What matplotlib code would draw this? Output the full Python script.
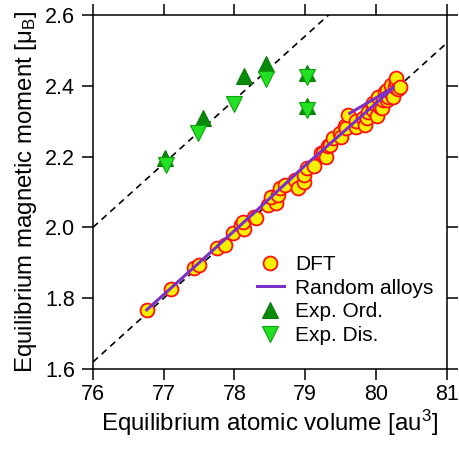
import numpy as np
import matplotlib
matplotlib.use('Agg')
import matplotlib.pyplot as plt

plt.rcParams['font.family'] = ['Liberation Sans', 'DejaVu Sans']
plt.rcParams['mathtext.fontset'] = 'custom'
plt.rcParams['mathtext.rm'] = 'Liberation Sans'
plt.rcParams['mathtext.it'] = 'Liberation Sans:italic'

# DFT results (volume, moment)
dft_vol = [76.76, 77.10, 77.43, 77.50, 77.76, 77.86, 77.98, 78.09, 78.14, 78.12,
           78.28, 78.31, 78.47, 78.59, 78.52, 78.61, 78.64, 78.71, 78.85, 78.90,
           78.99, 78.99, 79.02, 79.13, 79.23, 79.25, 79.30, 79.32, 79.35, 79.39,
           79.49, 79.51, 79.56, 79.58, 79.61, 79.72, 79.72, 79.82, 79.84, 79.87,
           79.89, 79.96, 79.96, 80.01, 80.03, 80.06, 80.08, 80.10, 80.13, 80.15,
           80.15, 80.17, 80.22, 80.22, 80.24, 80.27, 80.29, 80.29, 80.31, 80.34]
dft_mom = [1.767, 1.825, 1.884, 1.894, 1.941, 1.950, 1.985, 2.007, 1.995, 2.016,
           2.030, 2.026, 2.063, 2.068, 2.087, 2.092, 2.110, 2.120, 2.134, 2.110,
           2.129, 2.148, 2.167, 2.172, 2.209, 2.209, 2.200, 2.229, 2.233, 2.252,
           2.266, 2.256, 2.285, 2.280, 2.318, 2.284, 2.299, 2.308, 2.289, 2.308,
           2.327, 2.331, 2.351, 2.313, 2.369, 2.341, 2.336, 2.360, 2.383, 2.388,
           2.360, 2.369, 2.379, 2.402, 2.369, 2.397, 2.411, 2.421, 2.392, 2.397]

# random alloys curve
ra_vol = [76.76, 77.50, 78.30, 79.00, 79.60, 80.00, 80.25, 79.63]
ra_mom = [1.767, 1.900, 2.045, 2.175, 2.280, 2.350, 2.395, 2.322]

# experiments
ord_vol = [77.02, 77.56, 78.13, 78.45, 79.03, 79.03]
ord_mom = [2.195, 2.308, 2.427, 2.461, 2.435, 2.342]
dis_vol = [77.03, 77.49, 77.99, 78.45, 79.03, 79.03]
dis_mom = [2.176, 2.266, 2.348, 2.418, 2.425, 2.332]

# guide lines: intercept at V=76 and slope
guide_x = [76, 81]
guide_b = [2.0, 1.62]
guide_slope = 0.18

fig = plt.figure(figsize=(4.6, 4.49), dpi=100)
ax = fig.add_axes([0.202, 0.178, 0.769, 0.789])

for b in guide_b:
    gy = [b + guide_slope * (v - 76) for v in guide_x]
    ax.plot(guide_x, gy, color='k', linestyle=(0, (4, 3)), linewidth=1.2, zorder=1)

ax.plot(dft_vol, dft_mom, linestyle='none', marker='o', markersize=10,
        markerfacecolor='#f8f000', markeredgecolor='#ff1010', markeredgewidth=1.3,
        label='DFT', zorder=2)
ax.plot(ra_vol, ra_mom, color='#7a30c8', linewidth=2.2, label='Random alloys', zorder=3)
ax.plot(ord_vol, ord_mom, linestyle='none', marker='^', markersize=11,
        markerfacecolor='#0a8a0a', markeredgecolor='#0a7a0a', markeredgewidth=0.8,
        label='Exp. Ord.', zorder=4)
ax.plot(dis_vol, dis_mom, linestyle='none', marker='v', markersize=11,
        markerfacecolor='#22e022', markeredgecolor='#10a010', markeredgewidth=0.8,
        label='Exp. Dis.', zorder=5)

ax.set_xlim(76, 81)
ax.set_ylim(1.6, 2.6)
ax.set_xticks(np.arange(76, 82, 1))
ax.set_yticks(np.arange(1.6, 2.61, 0.2))
ax.set_yticklabels(['1.6', '1.8', '2.0', '2.2', '2.4', '2.6'])
ax.tick_params(direction='out', length=8, width=1.1, labelsize=15.5,
               top=True, right=True, labeltop=False, labelright=False)
ax.tick_params(axis='y', pad=5)
ax.tick_params(axis='x', pad=3)
for s in ax.spines.values():
    s.set_linewidth(1.1)

ax.set_xlabel('Equilibrium atomic volume [au$^3$]', fontsize=17.3, labelpad=2)
ax.set_ylabel('Equilibrium magnetic moment [μ$_\\mathrm{B}$]', fontsize=17.3, labelpad=4)

ax.legend(loc='upper left', bbox_to_anchor=(0.44, 0.345), frameon=False,
          fontsize=15, handlelength=1.3, handletextpad=0.55, labelspacing=0.22,
          borderaxespad=0)

fig.savefig('out.png', dpi=100)
